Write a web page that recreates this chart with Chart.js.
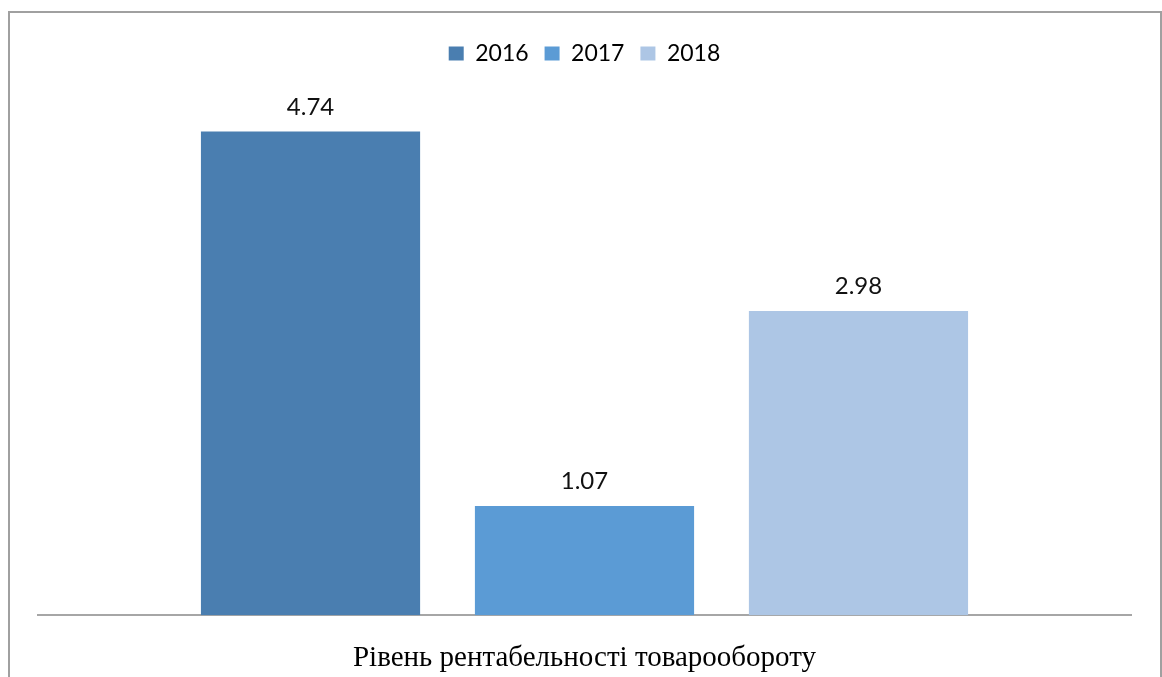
<!DOCTYPE html>
<html>
<head>
<meta charset="utf-8">
<script src="https://cdn.jsdelivr.net/npm/chart.js@4.4.1/dist/chart.umd.min.js"></script>
<style>
  body { margin: 0; background: #fff; overflow: hidden; }
  #wrap { position: relative; width: 1162px; height: 677px; }
  #frame {
    position: absolute; left: 8px; top: 11px; width: 1150px; height: 700px;
    border: 2px solid #a0a0a0; border-bottom: none; pointer-events: none;
  }
</style>
</head>
<body>
<div id="wrap">
  <canvas id="myChart" width="1162" height="677"></canvas>
  <div id="frame"></div>
</div>
<script>
var categories = ['Рівень рентабельності товарообороту'];
var years = ['2016', '2017', '2018'];
var values = [4.74, 1.07, 2.98];
var colors = ['#4a7eb0', '#5b9bd5', '#adc6e5'];

// підписи значень над стовпчиками
var valueLabels = {
    id: 'valueLabels',
    afterDatasetsDraw: function (chart) {
        var ctx = chart.ctx;
        ctx.save();
        ctx.font = '24px Lato';
        ctx.fillStyle = '#111';
        ctx.textAlign = 'center';
        ctx.textBaseline = 'alphabetic';
        chart.data.datasets.forEach(function (ds, i) {
            chart.getDatasetMeta(i).data.forEach(function (bar, j) {
                ctx.fillText(ds.data[j].toFixed(2), bar.x, bar.y - 17);
            });
        });
        ctx.restore();
    }
};

// додатковий відступ під легендою
var legendGap = {
    id: 'legendGap',
    beforeInit: function (chart) {
        var fit = chart.legend.fit;
        chart.legend.fit = function () {
            fit.call(this);
            this.height += 30;
        };
    }
};

var chartData = {
    labels: categories,
    datasets: years.map(function (y, i) {
        return {
            label: y,
            data: [values[i]],
            backgroundColor: colors[i],
            borderWidth: 0,
            categoryPercentage: 0.752,
            barPercentage: 0.8
        };
    })
};

var ctx = document.getElementById('myChart').getContext('2d');
var myChart = new Chart(ctx, {
    type: 'bar',
    data: chartData,
    options: {
        responsive: false,
        animation: false,
        layout: { padding: { left: 38, right: 31, top: 26, bottom: -25 } },
        scales: {
            x: {
                grid: { display: false, drawTicks: false },
                border: { display: true, color: '#a6a6a6', width: 2 },
                ticks: {
                    padding: 26,
                    color: '#000',
                    font: { family: '"Liberation Serif", "Times New Roman", serif', size: 29 }
                }
            },
            y: {
                display: false,
                min: 0,
                max: 5
            }
        },
        plugins: {
            legend: {
                position: 'top',
                labels: {
                    boxWidth: 15,
                    boxHeight: 14,
                    padding: 16,
                    color: '#000',
                    font: { family: 'Lato', size: 23 }
                }
            },
            tooltip: { enabled: false }
        }
    },
    plugins: [valueLabels, legendGap]
});
</script>
</body>
</html>
